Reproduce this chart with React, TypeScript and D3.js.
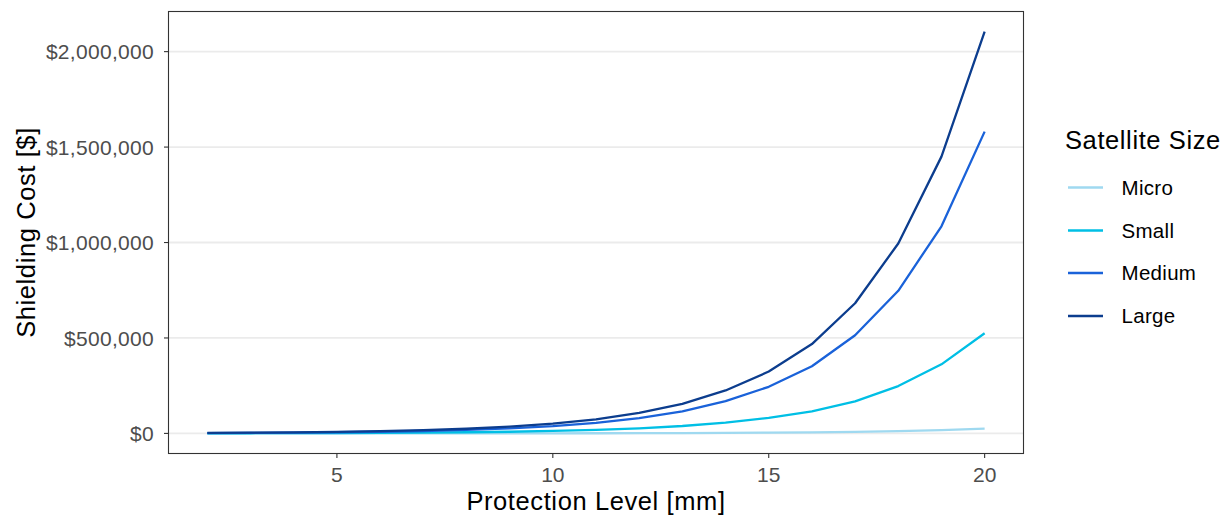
import React from "react";
import * as d3 from "d3";

const levels = [2, 3, 4, 5, 6, 7, 8, 9, 10, 11, 12, 13, 14, 15, 16, 17, 18, 19, 20];
const seriesNames = ["Micro", "Small", "Medium", "Large"];
const microCost = [33, 48, 69, 100, 145, 210, 304, 440, 638, 925, 1340, 1940, 2810, 4080, 5900, 8550, 12400, 17500, 25000];
const smallCost = [650, 950, 1400, 2000, 2900, 4200, 6100, 8800, 12800, 18500, 26800, 38800, 56300, 81000, 116000, 168000, 248000, 362000, 525000];
const mediumCost = [1950, 2850, 4100, 6000, 8700, 12600, 18200, 26400, 38300, 55500, 80300, 116000, 169000, 244000, 352000, 514000, 747000, 1085000, 1581000];
const largeCost = [2600, 3800, 5500, 8000, 11600, 16800, 24300, 35200, 51000, 74000, 107000, 155000, 225000, 324000, 468000, 682000, 995000, 1450000, 2105000];
const seriesColors = ["#9fd9f0", "#00bfe5", "#1a62d9", "#0c3d8e"];
const xTicks = [5, 10, 15, 20];
const yTicks = [0, 500000, 1000000, 1500000, 2000000];

const W = 1227;
const H = 518;
const panel = { left: 168.5, right: 1023.5, top: 11.5, bottom: 453.5 };
const FONT = "'Liberation Sans', Arial, Helvetica, sans-serif";

export default function App() {
  const allSeries = [microCost, smallCost, mediumCost, largeCost];
  const xMin = d3.min(levels) as number;
  const xMax = d3.max(levels) as number;
  const xPad = (xMax - xMin) * 0.05;
  const x = d3.scaleLinear().domain([xMin - xPad, xMax + xPad]).range([panel.left, panel.right]);
  const yMax = d3.max(allSeries.flat()) as number;
  const yMinV = 0;
  const yPad = (yMax - yMinV) * 0.05;
  const y = d3.scaleLinear().domain([yMinV - yPad, yMax + yPad]).range([panel.bottom, panel.top]);
  const fmt = (v: number) => "$" + d3.format(",")(v);
  const line = d3
    .line<number>()
    .x((_, i) => x(levels[i]))
    .y((d) => y(d));

  const legendKeysY = [187.5, 230.5, 273, 316];

  return (
    <svg
      width={W}
      height={H}
      style={{ position: "absolute", left: 0, top: 0, background: "#fff" }}
      fontFamily={FONT}
    >
      <rect x={0} y={0} width={W} height={H} fill="#fff" />
      {/* gridlines */}
      {yTicks.map((t) => (
        <line key={"g" + t} x1={panel.left} x2={panel.right} y1={y(t)} y2={y(t)} stroke="#ebebeb" strokeWidth={1.8} />
      ))}
      {/* series */}
      <g clipPath="url(#clip)">
        {allSeries.map((s, i) => (
          <path
            key={seriesNames[i]}
            d={line(s) || ""}
            fill="none"
            stroke={seriesColors[i]}
            strokeWidth={2.3}
            strokeLinejoin="round"
          />
        ))}
      </g>
      <defs>
        <clipPath id="clip">
          <rect x={panel.left} y={panel.top} width={panel.right - panel.left} height={panel.bottom - panel.top} />
        </clipPath>
      </defs>
      {/* panel border */}
      <rect
        x={panel.left}
        y={panel.top}
        width={panel.right - panel.left}
        height={panel.bottom - panel.top}
        fill="none"
        stroke="#333333"
        strokeWidth={1.1}
      />
      {/* y axis */}
      {yTicks.map((t) => (
        <g key={"y" + t}>
          <line x1={panel.left - 4.5} x2={panel.left} y1={y(t)} y2={y(t)} stroke="#333333" strokeWidth={1.1} />
          <text x={154} y={y(t)} dy="0.36em" textAnchor="end" fontSize={21} letterSpacing={0.3} fill="#4d4d4d">
            {fmt(t)}
          </text>
        </g>
      ))}
      {/* x axis */}
      {xTicks.map((t) => (
        <g key={"x" + t}>
          <line x1={x(t)} x2={x(t)} y1={panel.bottom} y2={panel.bottom + 4.5} stroke="#333333" strokeWidth={1.1} />
          <text x={x(t)} y={481.5} textAnchor="middle" fontSize={21} fill="#4d4d4d">
            {t}
          </text>
        </g>
      ))}
      {/* axis titles */}
      <text
        x={(panel.left + panel.right) / 2}
        y={510}
        textAnchor="middle"
        fontSize={25.5}
        letterSpacing={0.6}
        fill="#000"
      >
        Protection Level [mm]
      </text>
      <text
        transform={`translate(35,${(panel.top + panel.bottom) / 2}) rotate(-90)`}
        textAnchor="middle"
        fontSize={25.5}
        letterSpacing={0.6}
        fill="#000"
      >
        Shielding Cost [$]
      </text>
      {/* legend */}
      <text x={1065} y={149} fontSize={25.5} letterSpacing={0.6} fill="#000">
        Satellite Size
      </text>
      {seriesNames.map((n, i) => (
        <g key={"l" + n}>
          <line x1={1068} x2={1103} y1={legendKeysY[i]} y2={legendKeysY[i]} stroke={seriesColors[i]} strokeWidth={2.3} />
          <text x={1121.5} y={legendKeysY[i] + 7.4} fontSize={20.5} letterSpacing={0.3} fill="#000">
            {n}
          </text>
        </g>
      ))}
    </svg>
  );
}
